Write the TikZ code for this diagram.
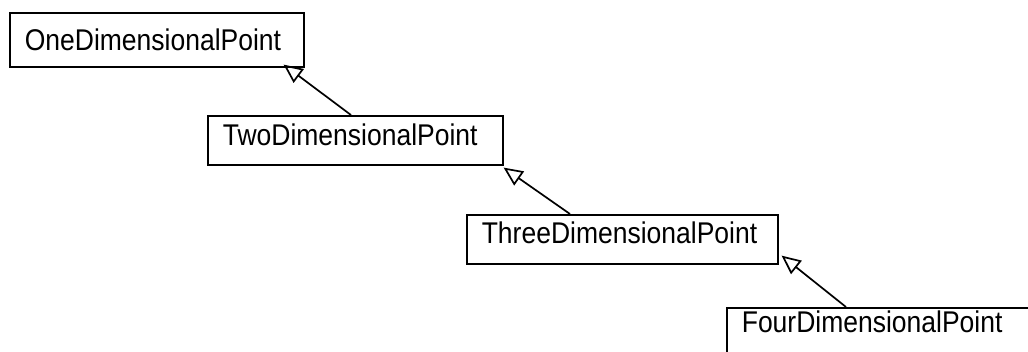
\documentclass[tikz,border=0pt]{standalone}
\usepackage{fontspec}
\setmainfont{Liberation Sans}
\usepackage{graphicx}
\usetikzlibrary{arrows.meta}

\newcommand{\clsname}[1]{\scalebox{1}[1.13]{#1}}

\begin{document}
\begin{tikzpicture}[x=1pt,y=-1pt,
  classbox/.style={draw,line width=1.6pt,rectangle,anchor=north west,
    inner xsep=15pt,inner ysep=0pt,align=left,font=\fontsize{26.5}{27}\selectfont},
  inherit/.style={draw,line width=1.7pt,
    -{Triangle[open,length=19pt,width=17pt,line width=1.7pt]}}]
\clip (0,0) rectangle (1028,351);
\node[classbox,text width=264pt,text height=38pt,text depth=16pt] (one) at (9,12) {\clsname{OneDimensionalPoint}};
\node[classbox,text width=265pt,text height=30pt,text depth=19pt] (two) at (207,115) {\clsname{TwoDimensionalPoint}};
\node[classbox,text width=281pt,text height=29pt,text depth=20pt] (three) at (466,214) {\clsname{ThreeDimensionalPoint}};
\node[classbox,text width=300pt,text height=25pt,text depth=22pt] (four) at (726,307) {\clsname{FourDimensionalPoint}};
% generalisation arrows
\draw[inherit] ([xshift=144pt]two.north west) -- ([xshift=-21pt,yshift=3pt]one.south east);
\draw[inherit] ([xshift=104pt]three.north west) -- ([yshift=-2pt]two.south east);
\draw[inherit] ([xshift=120pt]four.north west) -- ([xshift=3pt,yshift=9pt]three.south east);
\end{tikzpicture}
\end{document}
